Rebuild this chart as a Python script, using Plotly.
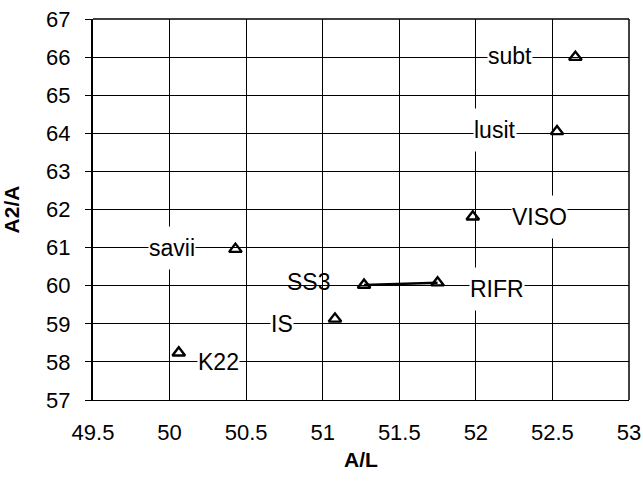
import plotly.graph_objects as go

# Data
names = ["subt", "lusit", "VISO", "savii", "SS3", "RIFR", "IS", "K22"]
al = [52.65, 52.53, 51.98, 50.43, 51.27, 51.75, 51.08, 50.06]
a2a = [66.0, 64.05, 61.81, 60.96, 60.02, 60.08, 59.13, 58.24]

# label placement (pixel offsets) and whether the label hides the grid behind it
label_dx = [-65, -62, 67, -63, -56, 59, -53, 40]
label_dy = [1, 1, 0, 1, 3, -6, -5, -9]
label_bg = [True, True, True, True, False, True, True, True]

x_ticks = [49.5, 50, 50.5, 51, 51.5, 52, 52.5, 53]
y_ticks = [57, 58, 59, 60, 61, 62, 63, 64, 65, 66, 67]

FONT = "Liberation Sans, Arial, sans-serif"

fig = go.Figure()

# link between SS3 and RIFR
i_ss3 = names.index("SS3")
i_rifr = names.index("RIFR")
fig.add_trace(go.Scatter(
    x=[al[i_ss3], al[i_rifr]], y=[a2a[i_ss3], a2a[i_rifr]],
    mode="lines", line=dict(color="black", width=2.5),
    hoverinfo="skip", showlegend=False))

fig.add_trace(go.Scatter(
    x=al, y=a2a, mode="markers", text=names,
    marker=dict(symbol="triangle-up-open", size=11, color="black",
                line=dict(color="black", width=2.4)),
    showlegend=False, cliponaxis=False))

for n, x, y, dx, dy, bg in zip(names, al, a2a, label_dx, label_dy, label_bg):
    fig.add_annotation(
        x=x, y=y, xref="x", yref="y", text=n, showarrow=False,
        xshift=dx, yshift=dy,
        font=dict(family=FONT, size=23, color="black"),
        bgcolor="white" if bg else "rgba(0,0,0,0)",
        height=42 if bg else None, borderpad=0)

fig.update_xaxes(
    range=[49.5, 53], tickvals=x_ticks, ticktext=[f"{v:g}" for v in x_ticks],
    showgrid=True, gridcolor="black", gridwidth=1,
    showline=True, linecolor="black", linewidth=1, mirror=False,
    ticks="", zeroline=False, ticklabelstandoff=13,
    ticklabeloverflow="allow",
    tickfont=dict(family=FONT, size=22, color="black"),
    title=dict(text="<b>A/L</b>", font=dict(family=FONT, size=21, color="black"),
               standoff=7),
    fixedrange=True)

fig.update_yaxes(
    range=[57, 67], tickvals=y_ticks, ticktext=[str(v) for v in y_ticks],
    showgrid=True, gridcolor="black", gridwidth=1,
    showline=True, linecolor="black", linewidth=2,
    ticks="outside", ticklen=6, tickcolor="black", tickwidth=1,
    zeroline=False, ticklabelstandoff=10,
    ticklabeloverflow="allow",
    tickfont=dict(family=FONT, size=22, color="black"),
    title=dict(text="<b>A2/A</b>", font=dict(family=FONT, size=21, color="black"),
               standoff=21),
    fixedrange=True)

# right and top border lines
fig.add_shape(type="line", xref="paper", yref="paper", x0=1, x1=1, y0=0, y1=1,
              line=dict(color="black", width=1.5), layer="below")
fig.add_shape(type="line", xref="paper", yref="paper", x0=0, x1=1, y0=1, y1=1,
              line=dict(color="black", width=1.5), layer="below")

fig.update_layout(
    width=643, height=484,
    margin=dict(l=93, r=14, t=19, b=84, autoexpand=False),
    paper_bgcolor="white", plot_bgcolor="white",
    font=dict(family=FONT, color="black"),
)

fig.write_html(
    "out.html",
    config={"displayModeBar": False},
    post_script="document.body.style.margin='0';document.body.style.overflow='hidden';",
)
